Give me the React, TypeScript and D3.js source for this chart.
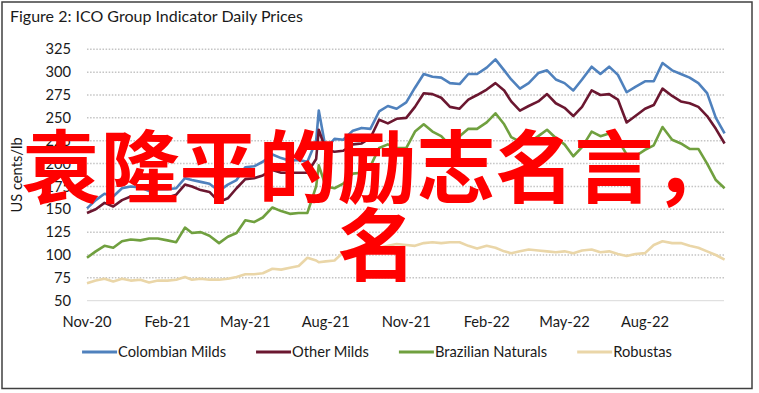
import React, { useEffect, useRef } from 'react';
import * as d3 from 'd3';

const dates = [
  '2020-11-01', '2020-11-11', '2020-11-21', '2020-12-01', '2020-12-11', '2020-12-21',
  '2021-01-01', '2021-01-11', '2021-01-21', '2021-02-01', '2021-02-11', '2021-02-21',
  '2021-03-01', '2021-03-11', '2021-03-21', '2021-04-01', '2021-04-11', '2021-04-21',
  '2021-05-01', '2021-05-11', '2021-05-21', '2021-06-01', '2021-06-11', '2021-06-21',
  '2021-07-01', '2021-07-11', '2021-07-21', '2021-07-24', '2021-08-01', '2021-08-11', '2021-08-21',
  '2021-09-01', '2021-09-11', '2021-09-21', '2021-10-01', '2021-10-11', '2021-10-21',
  '2021-11-01', '2021-11-11', '2021-11-21', '2021-12-01', '2021-12-11', '2021-12-21',
  '2022-01-01', '2022-01-11', '2022-01-21', '2022-02-01', '2022-02-11', '2022-02-21',
  '2022-03-01', '2022-03-11', '2022-03-21', '2022-04-01', '2022-04-11', '2022-04-21',
  '2022-05-01', '2022-05-11', '2022-05-21', '2022-06-01', '2022-06-11', '2022-06-21',
  '2022-07-01', '2022-07-11', '2022-07-21', '2022-08-01', '2022-08-11', '2022-08-21',
  '2022-09-01', '2022-09-11', '2022-09-21', '2022-10-01', '2022-10-11', '2022-10-21', '2022-10-31',
];

const colombianMilds = [
  151, 160, 167, 164, 173, 175, 174, 170, 172, 172, 173, 184,
  182, 180, 178, 170, 177, 182, 196, 197, 202, 210, 206, 203,
  204, 202, 225, 258, 216, 227, 226, 236, 239, 238, 257, 263, 260,
  267, 283, 298, 295, 294, 288, 287, 298, 298, 305, 314, 302,
  292, 282, 288, 299, 302, 292, 288, 280, 292, 306, 298, 306,
  297, 278, 284, 290, 290, 310, 302, 298, 294, 288, 277, 250, 233,
];

const otherMilds = [
  146, 150, 157, 153, 160, 164, 162, 160, 163, 163, 166, 177,
  175, 171, 169, 158, 162, 173, 183, 184, 187, 193, 190, 190,
  190, 190, 205, 237, 215, 213, 214, 221, 222, 228, 248, 244, 249,
  250, 262, 277, 276, 272, 262, 260, 270, 275, 281, 288, 280,
  268, 258, 263, 268, 276, 266, 261, 252, 262, 280, 275, 276,
  270, 245, 252, 260, 264, 282, 274, 268, 266, 262, 252, 238, 222,
];

const brazilianNaturals = [
  97, 104, 110, 108, 115, 117, 116, 118, 118, 116, 114, 130,
  124, 125, 121, 113, 120, 124, 138, 136, 141, 152, 148, 145,
  146, 146, 175, 198, 175, 173, 178, 189, 190, 197, 217, 221, 217,
  217, 235, 243, 235, 230, 220, 230, 238, 238, 245, 255, 243,
  229, 224, 223, 230, 237, 228, 221, 208, 218, 235, 230, 233,
  226, 210, 208, 215, 220, 240, 226, 222, 216, 216, 200, 182, 173,
];

const robustas = [
  69, 72, 74, 71, 74, 72, 73, 70, 72, 72, 73, 76,
  73, 74, 73, 73, 74, 76, 79, 79, 80, 85, 84, 86,
  88, 97, 94, 92, 93, 94, 103, 106, 108, 110, 108, 110, 112,
  111, 110, 113, 114, 113, 114, 114, 110, 107, 110, 108, 104,
  102, 104, 106, 105, 104, 103, 104, 102, 105, 106, 103, 104,
  101, 99, 101, 102, 111, 115, 113, 113, 110, 108, 104, 100, 95,
];

const seriesNames = ['Colombian Milds', 'Other Milds', 'Brazilian Naturals', 'Robustas'];
const seriesColors = ['#4f81bd', '#6b1730', '#70a03f', '#ead6a8'];
const yTicks = [50, 75, 100, 125, 150, 175, 200, 225, 250, 275, 300, 325];
const xTicks = ['2020-11-01', '2021-02-01', '2021-05-01', '2021-08-01', '2021-11-01', '2022-02-01', '2022-05-01', '2022-08-01'];

const titleText = 'Figure 2: ICO Group Indicator Daily Prices';
const yLabel = 'US cents/lb';
const overlayLines = ['袁隆平的励志名言，', '名'];

const W = 759;
const H = 393;
const FONT = 'Lato, "Open Sans", sans-serif';

const App = () => {
  const svgRef = useRef<SVGSVGElement | null>(null);

  useEffect(() => {
    if (!svgRef.current) return;
    const svg = d3.select(svgRef.current);
    svg.selectAll('*').remove();

    const parse = d3.timeParse('%Y-%m-%d');
    const xs = dates.map(d => parse(d) as Date);

    const x = d3.scaleTime()
      .domain([parse('2020-11-01') as Date, parse('2022-10-31') as Date])
      .range([87, 724.6]);
    const y = d3.scaleLinear().domain([50, 325]).range([300.7, 49.3]);

    // frame
    svg.append('rect')
      .attr('x', 2).attr('y', 2)
      .attr('width', 750).attr('height', 386.5)
      .attr('fill', '#fff')
      .attr('stroke', '#404040')
      .attr('stroke-width', 1.5);

    svg.append('text')
      .attr('x', 10).attr('y', 22)
      .style('font-family', FONT)
      .style('font-size', '16px')
      .style('fill', '#1a1a1a')
      .text(titleText);

    // gridlines (dotted)
    svg.selectAll('.grid')
      .data(yTicks.filter(t => t > 50))
      .enter().append('line')
      .attr('x1', 87).attr('x2', 724)
      .attr('y1', d => y(d)).attr('y2', d => y(d))
      .attr('stroke', '#c4c4c4')
      .attr('stroke-width', 1.5)
      .attr('stroke-dasharray', '1.5,1.6');

    // base axis
    svg.append('line')
      .attr('x1', 87).attr('x2', 724)
      .attr('y1', y(50)).attr('y2', y(50))
      .attr('stroke', '#d9d9d9')
      .attr('stroke-width', 1);

    svg.selectAll('.ytick')
      .data(yTicks)
      .enter().append('text')
      .attr('x', 71)
      .attr('y', d => y(d))
      .attr('dy', '0.35em')
      .attr('text-anchor', 'end')
      .style('font-family', FONT)
      .style('font-size', '14.7px')
      .style('fill', '#1a1a1a')
      .text(d => d);

    const fmt = d3.timeFormat('%b-%y');
    svg.selectAll('.xtick')
      .data(xTicks.map(d => parse(d) as Date))
      .enter().append('text')
      .attr('x', d => x(d))
      .attr('y', 322)
      .attr('dy', '0.35em')
      .attr('text-anchor', 'middle')
      .style('font-family', FONT)
      .style('font-size', '14.7px')
      .style('fill', '#1a1a1a')
      .text(d => fmt(d));

    svg.append('text')
      .attr('transform', `translate(22, 175) rotate(-90)`)
      .attr('text-anchor', 'middle')
      .style('font-family', FONT)
      .style('font-size', '14.7px')
      .style('fill', '#1a1a1a')
      .text(yLabel);

    const allSeries = [colombianMilds, otherMilds, brazilianNaturals, robustas];
    const line = d3.line<number>()
      .x((d, i) => x(xs[i]))
      .y(d => y(d))
      .curve(d3.curveLinear);

    allSeries.forEach((vals, k) => {
      svg.append('path')
        .datum(vals)
        .attr('fill', 'none')
        .attr('stroke', seriesColors[k])
        .attr('stroke-width', 2.6)
        .attr('stroke-linejoin', 'round')
        .attr('d', line);
    });

    // legend, centered in frame
    const legend = svg.append('g');
    let cx = 0;
    seriesNames.forEach((name, k) => {
      const g = legend.append('g').attr('transform', `translate(${cx},0)`);
      g.append('line')
        .attr('x1', 0).attr('x2', 35)
        .attr('y1', 0).attr('y2', 0)
        .attr('stroke', seriesColors[k])
        .attr('stroke-width', 3);
      const t = g.append('text')
        .attr('x', 36)
        .attr('y', 0)
        .attr('dy', '0.35em')
        .style('font-family', FONT)
        .style('font-size', '14.7px')
        .style('fill', '#1a1a1a')
        .text(name);
      const tw = (t.node() as SVGTextElement).getComputedTextLength();
      cx += 36 + tw + 30;
    });
    const total = cx - 30;
    legend.attr('transform', `translate(${377 - total / 2}, 352)`);

    // red overlay text
    svg.selectAll('.overlay')
      .data(overlayLines)
      .enter().append('text')
      .attr('x', 377)
      .attr('y', (d, i) => 197 + i * 78)
      .attr('text-anchor', 'middle')
      .style('font-family', '"Noto Sans CJK SC", sans-serif')
      .style('font-size', '79px')
      .style('font-weight', 'bold')
      .style('fill', '#ff0000')
      .text(d => d);
  }, []);

  return (
    <div style={{ position: 'fixed', left: 0, top: 0, width: W, height: H, background: '#fff' }}>
      <svg ref={svgRef} width={W} height={H} />
    </div>
  );
};

export default App;
